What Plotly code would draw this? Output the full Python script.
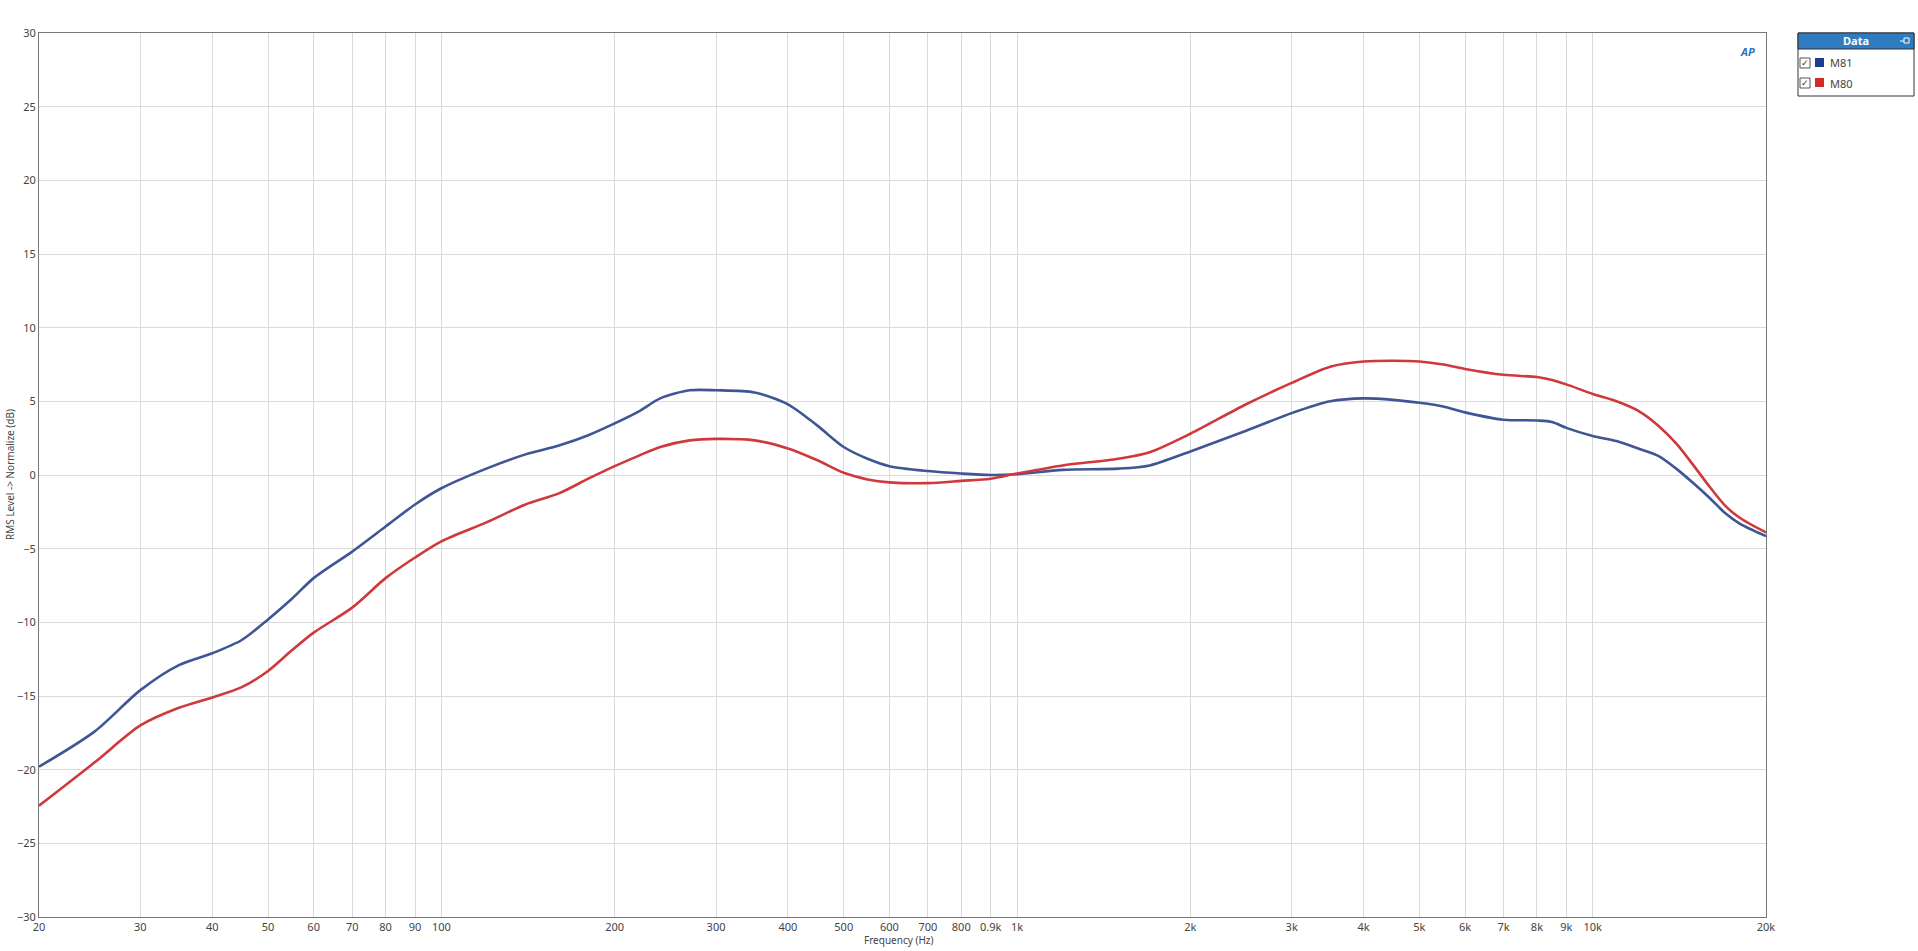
import plotly.graph_objects as go

# frequency response (normalized to 0 dB at 1 kHz)
freq = [20, 25, 30, 35, 40, 45, 50, 55, 60, 70, 80, 90, 100, 120, 140, 160, 180,
        200, 220, 240, 270, 300, 350, 400, 450, 500, 550, 600, 700, 800, 900,
        1000, 1200, 1500, 1700, 2000, 2500, 3000, 3500, 4000, 4500, 5000, 5500,
        6000, 7000, 8000, 8500, 9000, 10000, 11000, 12000, 13000, 14000, 15000,
        16000, 17000, 18000, 20000]

m81 = [-19.8, -17.4, -14.6, -12.9, -12.1, -11.2, -9.8, -8.4, -7.0, -5.2, -3.5,
       -2.0, -0.9, 0.45, 1.4, 2.0, 2.7, 3.5, 4.3, 5.2, 5.75, 5.75, 5.6, 4.8,
       3.35, 1.9, 1.1, 0.6, 0.27, 0.1, 0.0, 0.05, 0.35, 0.43, 0.65, 1.6, 3.0,
       4.2, 5.0, 5.2, 5.1, 4.9, 4.65, 4.25, 3.75, 3.7, 3.6, 3.2, 2.65, 2.3, 1.8,
       1.3, 0.4, -0.6, -1.6, -2.6, -3.3, -4.15]

m80 = [-22.45, -19.5, -17.0, -15.8, -15.1, -14.4, -13.3, -11.9, -10.7, -9.0,
       -7.0, -5.6, -4.5, -3.2, -2.0, -1.25, -0.25, 0.6, 1.3, 1.9, 2.35, 2.45,
       2.35, 1.8, 1.0, 0.15, -0.3, -0.5, -0.55, -0.4, -0.25, 0.1, 0.65, 1.1,
       1.55, 2.8, 4.8, 6.25, 7.35, 7.7, 7.75, 7.7, 7.5, 7.2, 6.8, 6.65, 6.45,
       6.15, 5.5, 5.0, 4.35, 3.35, 2.1, 0.6, -0.85, -2.1, -2.9, -3.9]

x_ticks = [20, 30, 40, 50, 60, 70, 80, 90, 100, 200, 300, 400, 500, 600, 700,
           800, 900, 1000, 2000, 3000, 4000, 5000, 6000, 7000, 8000, 9000,
           10000, 20000]
x_labels = ["20", "30", "40", "50", "60", "70", "80", "90", "100", "200", "300",
            "400", "500", "600", "700", "800", "0.9k", "1k", "2k", "3k", "4k",
            "5k", "6k", "7k", "8k", "9k", "10k", "20k"]

series = [("M81", m81, "#3f5595", "#1f3d8f"), ("M80", m80, "#d0393b", "#d42a2a")]

W, H = 1918, 951
L, R, T, B = 39, 1766, 33, 917  # plot box in screenshot pixels


def px(x):
    return (x - L) / (R - L)


def py(y):
    return (B - y) / (B - T)


fig = go.Figure()
for name, vals, col, _ in series:
    fig.add_trace(go.Scatter(x=freq, y=vals, name=name, mode="lines",
                             line=dict(color=col, width=2.6, shape="spline", smoothing=0.8)))

font = "Noto Sans, Open Sans, sans-serif"
narrow = "Liberation Sans Narrow, " + font
fig.update_layout(
    width=W, height=H, showlegend=False,
    paper_bgcolor="white", plot_bgcolor="white",
    margin=dict(l=L, r=W - R, t=T, b=H - B),
    font=dict(family=font, size=11, color="#444"),
)
fig.update_xaxes(type="log", range=[1.30103, 4.30103], tickvals=x_ticks, ticktext=x_labels,
                 showgrid=True, gridcolor="#dadada", gridwidth=1,
                 showline=True, linecolor="#777", linewidth=1, mirror=True,
                 ticks="", tickfont=dict(size=11, color="#444"), zeroline=False)
fig.update_yaxes(range=[-30, 30], dtick=5, showgrid=True, gridcolor="#dadada",
                 showline=True, linecolor="#777", linewidth=1, mirror=True,
                 ticks="", tickfont=dict(size=11, color="#444"), zeroline=False)


def label(text, x, y, size=11, color="#444", family=font, **kw):
    kw.setdefault("xanchor", "center")
    fig.add_annotation(text=text, xref="paper", yref="paper", x=px(x), y=py(y),
                       yanchor="middle", showarrow=False,
                       font=dict(size=size, color=color, family=family), **kw)


# axis titles
label("Frequency (Hz)", 899, 940, size=10, family=narrow)
label("RMS Level -> Normalize (dB)", 10, 475, size=10, family=narrow, textangle=-90)

# AP logo
label("<b><i>AP</i></b>", 1747, 51, color="#2a72bd")


def box(x0, x1, y0, y1, **kw):
    return dict(type="rect", xref="paper", yref="paper",
                x0=px(x0), x1=px(x1), y0=py(y0), y1=py(y1), **kw)


# legend panel drawn by hand
shapes = [
    box(1798, 1914, 33, 96, line=dict(color="#333", width=1), fillcolor="white"),
    box(1798, 1914, 33, 49, line=dict(color="#333", width=1), fillcolor="#2f7bbf"),
    dict(type="line", xref="paper", yref="paper", x0=px(1900), x1=px(1904),
         y0=py(41), y1=py(41), line=dict(color="white", width=1)),
    box(1904, 1909, 38, 43, line=dict(color="white", width=1)),
]
label("<b>Data</b>", 1856, 41, color="white")
for i, (name, _, _, swatch) in enumerate(series):
    yc = 63 + 20 * i
    shapes.append(box(1800, 1810, yc - 5, yc + 5, line=dict(color="#555", width=1),
                      fillcolor="white"))
    shapes.append(box(1815, 1824, yc - 5, yc + 4, line=dict(width=0), fillcolor=swatch))
    label("✓", 1805, yc, size=9, color="#333", family="DejaVu Sans")
    label(name, 1828, yc, xanchor="left")
fig.update_layout(shapes=shapes)

# drop the default page margin so the figure fills the window exactly
fig.write_html("out.html", config={"displayModeBar": False},
               post_script="document.body.style.margin='0';document.body.style.overflow='hidden';")
